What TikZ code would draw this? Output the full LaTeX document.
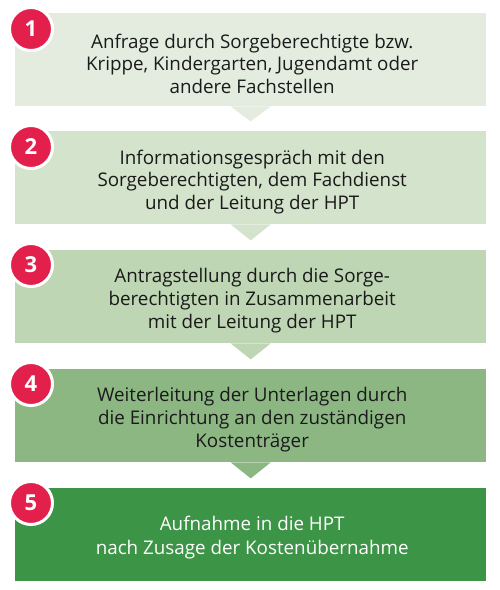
\documentclass[tikz,border=0pt]{standalone}
\usepackage{fontspec}
\setmainfont{Open Sans}
\definecolor{cA}{HTML}{E4ECE0}
\definecolor{cB}{HTML}{D4E3CB}
\definecolor{cC}{HTML}{BED6B3}
\definecolor{cD}{HTML}{8CB783}
\definecolor{cE}{HTML}{3C9446}
\definecolor{numred}{HTML}{E3204B}
\definecolor{txt}{HTML}{1A1A1A}
\begin{document}
\begin{tikzpicture}[x=1pt,y=-1pt,
  stepbox/.style={rectangle, inner sep=0pt, minimum width=471pt, minimum height=93pt, anchor=north west},
  steptext/.style={align=center, text=txt, inner sep=0pt, font=\fontsize{18.8}{22.6}\selectfont},
  numcirc/.style={circle, fill=numred, draw=white, line width=3pt, minimum size=43pt, inner sep=0pt, text=white, font=\fontsize{22}{22}\selectfont\bfseries}
]
\useasboundingbox (0,0) rectangle (500,590);
\fill[white] (0,0) rectangle (500,590);
% boxes
\node[stepbox, fill=cA] (b1) at (15,13) {};
\node[stepbox, fill=cB] (b2) at (15,131) {};
\node[stepbox, fill=cC] (b3) at (15,250) {};
\node[stepbox, fill=cD] (b4) at (15,369) {};
\node[stepbox, fill=cE] (b5) at (15,488) {};
% pointers
\fill[cA] (b1.south) ++(-20,0) -- ++(40,0) -- ++(-20,15) -- cycle;
\fill[cB] (b2.south) ++(-20,0) -- ++(40,0) -- ++(-20,16) -- cycle;
\fill[cC] (b3.south) ++(-20,0) -- ++(40,0) -- ++(-20,16) -- cycle;
\fill[cD] (b4.south) ++(-20,0) -- ++(40,0) -- ++(-20,16) -- cycle;
% texts
\node[steptext] (t1) at ([shift={(1.5,4)}]b1.center) {Anfrage durch Sorgeberechtigte bzw.\\Krippe, Kindergarten, Jugendamt oder\\andere Fachstellen};
\node[steptext] (t2) at ([shift={(1.5,4)}]b2.center) {Informationsgespräch mit den\\Sorgeberechtigten, dem Fachdienst\\und der Leitung der HPT};
\node[steptext] (t3) at ([shift={(1.5,4)}]b3.center) {Antragstellung durch die Sorge-\\berechtigten in Zusammenarbeit\\mit der Leitung der HPT};
\node[steptext] (t4) at ([shift={(1.5,4)}]b4.center) {Weiterleitung der Unterlagen durch\\die Einrichtung an den zuständigen\\Kostenträger};
\node[steptext, text=white, font=\fontsize{18.8}{24}\selectfont] (t5) at ([shift={(1.5,3)}]b5.center) {Aufnahme in die HPT\\nach Zusage der Kostenübernahme};
% numbers
\node[numcirc] (n1) at (31,29) {1};
\node[numcirc] (n2) at (31,147) {2};
\node[numcirc] (n3) at (31,265) {3};
\node[numcirc] (n4) at (31,384) {4};
\node[numcirc] (n5) at (31,503) {5};
\end{tikzpicture}
\end{document}
